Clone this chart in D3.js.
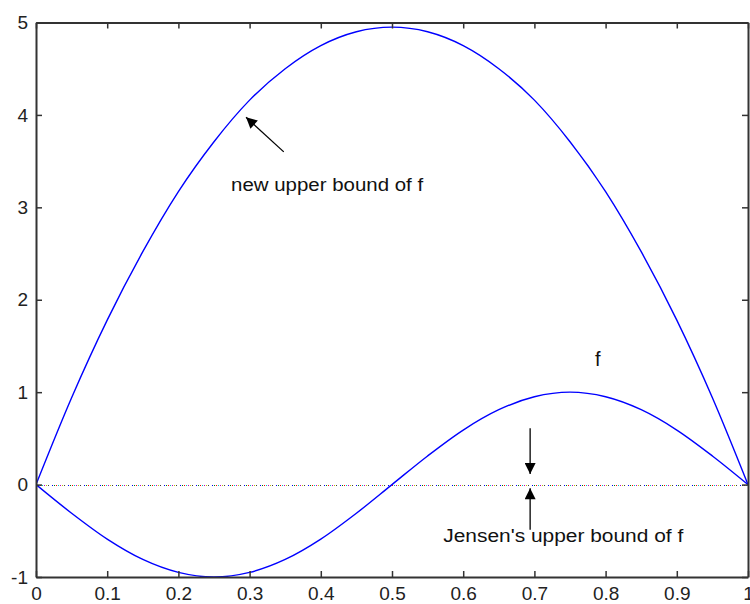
<!DOCTYPE html>
<html>
<head>
<meta charset="utf-8">
<script src="https://cdn.jsdelivr.net/npm/d3@7"></script>
<style>
  body { margin: 0; background: #fff; }
  svg { display: block; }
  .tick text { font-family: "Liberation Sans", Arial, sans-serif; font-size: 19px; fill: #222; }
  .ann { font-family: "Liberation Sans", Arial, sans-serif; font-size: 17.5px; fill: #111; }
</style>
</head>
<body>
<div id="chart"></div>
<script>

// sample positions
var xs = [0, 0.05, 0.1, 0.15, 0.2, 0.25, 0.3, 0.35, 0.4, 0.45, 0.5,
          0.55, 0.6, 0.65, 0.7, 0.75, 0.8, 0.85, 0.9, 0.95, 1];

// new upper bound of f
var upperBound = [0, 0.94, 1.78, 2.52, 3.17, 3.71, 4.16, 4.50, 4.75, 4.90, 4.95,
                  4.90, 4.75, 4.50, 4.16, 3.71, 3.17, 2.52, 1.78, 0.94, 0];

// f
var fValues = [0, -0.31, -0.59, -0.81, -0.95, -1, -0.95, -0.81, -0.59, -0.31, 0,
               0.31, 0.59, 0.81, 0.95, 1, 0.95, 0.81, 0.59, 0.31, 0];

// Jensen's upper bound (flat at zero)
var jensenX = [0, 1];
var jensenY = [0, 0];

var xTicks = [0, 0.1, 0.2, 0.3, 0.4, 0.5, 0.6, 0.7, 0.8, 0.9, 1];
var xTickLabels = ["0", "0.1", "0.2", "0.3", "0.4", "0.5", "0.6", "0.7", "0.8", "0.9", "1"];
var yTicks = [-1, 0, 1, 2, 3, 4, 5];
var yTickLabels = ["-1", "0", "1", "2", "3", "4", "5"];

// matlab-ish colour order used by the dotted zero line
var dotColors = ["#0000ff", "#008000", "#ff0000", "#00bfbf", "#bf00bf", "#bfbf00", "#404040"];

var width = 750, height = 604;

var svg = d3.select("#chart").append("svg")
    .attr("width", width)
    .attr("height", height);

var x = d3.scaleLinear().domain([0, 1]).range([36, 748]);
var y = d3.scaleLinear().domain([-1, 5]).range([577, 22.5]);

// clip to the axes box
svg.append("clipPath").attr("id", "clip")
    .append("rect")
    .attr("x", x(0)).attr("y", y(5))
    .attr("width", x(1) - x(0)).attr("height", y(-1) - y(5));

var plot = svg.append("g").attr("clip-path", "url(#clip)");

// dotted zero line, one pass per colour
dotColors.forEach(function(c, i) {
    plot.append("line")
        .attr("x1", x(jensenX[0])).attr("x2", x(jensenX[1]))
        .attr("y1", Math.round(y(jensenY[0])) + 0.5).attr("y2", Math.round(y(jensenY[1])) + 0.5)
        .attr("stroke", c)
        .attr("stroke-width", 1.6)
        .attr("shape-rendering", "crispEdges")
        .attr("stroke-dasharray", "1,15")
        .attr("stroke-dashoffset", -i * 2);
});

var line = d3.line()
    .x(function(d) { return x(d[0]); })
    .y(function(d) { return y(d[1]); })
    .curve(d3.curveMonotoneX);

plot.append("path")
    .datum(xs.map(function(v, i) { return [v, upperBound[i]]; }))
    .attr("d", line)
    .attr("fill", "none")
    .attr("stroke", "#0000ff")
    .attr("stroke-width", 1.4);

plot.append("path")
    .datum(xs.map(function(v, i) { return [v, fValues[i]]; }))
    .attr("d", line)
    .attr("fill", "none")
    .attr("stroke", "#0000ff")
    .attr("stroke-width", 1.4);

// axes: ticks point inward, mirrored on top/right
var axisColor = "#333";

var axB = svg.append("g")
    .attr("transform", "translate(0," + y(-1) + ")")
    .call(d3.axisBottom(x).tickValues(xTicks)
        .tickFormat(function(d, i) { return xTickLabels[i]; })
        .tickSizeInner(-6).tickSizeOuter(0).tickPadding(10));

var axL = svg.append("g")
    .attr("transform", "translate(" + x(0) + ",0)")
    .call(d3.axisLeft(y).tickValues(yTicks)
        .tickFormat(function(d, i) { return yTickLabels[i]; })
        .tickSizeInner(-6).tickSizeOuter(0).tickPadding(8));

var axT = svg.append("g")
    .attr("transform", "translate(0," + y(5) + ")")
    .call(d3.axisTop(x).tickValues(xTicks).tickFormat("")
        .tickSizeInner(-6).tickSizeOuter(0));

var axR = svg.append("g")
    .attr("transform", "translate(" + x(1) + ",0)")
    .call(d3.axisRight(y).tickValues(yTicks).tickFormat("")
        .tickSizeInner(-6).tickSizeOuter(0));

[axB, axL, axT, axR].forEach(function(g) {
    g.select(".domain").attr("stroke", axisColor).attr("stroke-width", 2);
    g.selectAll(".tick line").attr("stroke", axisColor).attr("stroke-width", 1.5);
});

// annotations
svg.append("defs").append("marker")
    .attr("id", "head")
    .attr("viewBox", "0 0 10 10")
    .attr("refX", 10).attr("refY", 5)
    .attr("markerWidth", 14).attr("markerHeight", 11)
    .attr("markerUnits", "userSpaceOnUse")
    .attr("orient", "auto")
    .append("path")
    .attr("d", "M0,0L10,5L0,10Z")
    .attr("fill", "#000");

function arrow(x1, y1, x2, y2) {
    svg.append("line")
        .attr("x1", x(x1)).attr("y1", y(y1))
        .attr("x2", x(x2)).attr("y2", y(y2))
        .attr("stroke", "#000")
        .attr("stroke-width", 1.3)
        .attr("marker-end", "url(#head)");
}

arrow(0.348, 3.60, 0.295, 3.975);
arrow(0.694, 0.61, 0.694, 0.115);
arrow(0.694, -0.49, 0.694, -0.04);

svg.append("text").attr("class", "ann")
    .attr("x", x(0.274)).attr("y", y(3.18))
    .attr("textLength", 192).attr("lengthAdjust", "spacingAndGlyphs")
    .text("new upper bound of f");

svg.append("text").attr("class", "ann")
    .attr("x", x(0.572)).attr("y", y(-0.62))
    .attr("textLength", 240).attr("lengthAdjust", "spacingAndGlyphs")
    .text("Jensen's upper bound of f");

svg.append("text").attr("class", "ann")
    .attr("x", x(0.785)).attr("y", y(1.28))
    .style("font-size", "20px")
    .text("f");

</script>
</body>
</html>
